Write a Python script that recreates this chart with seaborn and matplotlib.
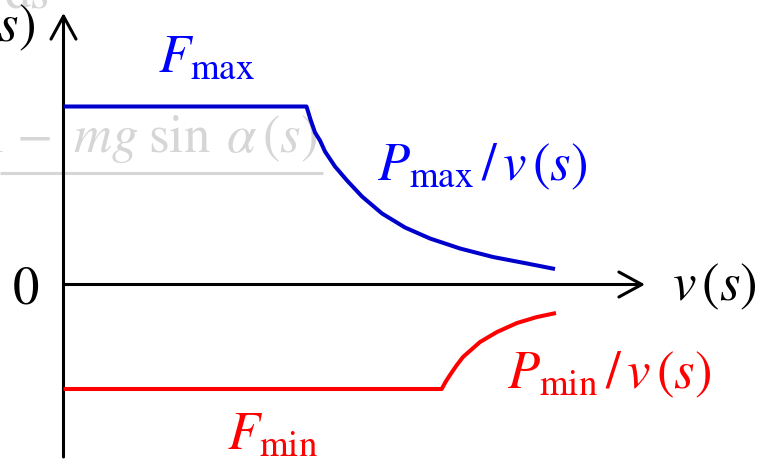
import matplotlib
matplotlib.use("Agg")
import matplotlib.pyplot as plt
import numpy as np
import pandas as pd
import seaborn as sns

sns.set_theme(style="white")
plt.rcParams["mathtext.fontset"] = "stix"
plt.rcParams["font.family"] = ["STIXGeneral", "DejaVu Serif"]

# Traction force limit: flat at F_max, then falling along P_max / v
v_max = [0.0, 24.3, 24.7, 25.15, 25.65, 26.15, 27.15, 28.35, 29.85, 31.85,
         34.15, 36.65, 39.65, 42.95, 46.35, 49.15]
f_max = [17.8, 17.8, 16.5, 15.2, 14.4, 13.3, 11.8, 10.4, 8.8, 7.1,
         5.7, 4.6, 3.6, 2.75, 2.1, 1.55]

# Braking force limit: flat at F_min, then rising along P_min / v
v_min = [0.0, 37.82, 38.2, 38.65, 39.3, 39.95, 41.65, 43.35, 45.35, 47.35, 49.25]
f_min = [-10.45, -10.45, -9.75, -9.05, -8.1, -7.25, -5.75, -4.75, -3.85, -3.25, -2.85]

BLUE_LINE = "#0000cc"
BLUE_TEXT = "#0000ff"
RED = "#ff0000"
GRAY = "#d6d6d6"
FS = 38

fig = plt.figure(figsize=(7.7, 4.66), dpi=100)
ax = fig.add_axes([0, 0, 1, 1])
ax.set_xlim(-6.35, 70.65)
ax.set_ylim(-18.15, 28.45)
ax.axis("off")

df_max = pd.DataFrame({"v": v_max, "F": f_max})
df_min = pd.DataFrame({"v": v_min, "F": f_min})
sns.lineplot(data=df_max, x="v", y="F", ax=ax, color=BLUE_LINE, lw=2.9,
             sort=False, estimator=None, solid_capstyle="butt", zorder=4)
sns.lineplot(data=df_min, x="v", y="F", ax=ax, color=RED, lw=2.9,
             sort=False, estimator=None, solid_capstyle="butt", zorder=4)

# Axes with open arrow heads
arrow = dict(arrowstyle="->,head_length=0.55,head_width=0.3", lw=2.2,
             color="black", mutation_scale=30, shrinkA=0, shrinkB=0)
ax.annotate("", xy=(58.15, 0), xytext=(0, 0), arrowprops=arrow, zorder=3)
ax.annotate("", xy=(0, 27.15), xytext=(0, -17.25), arrowprops=arrow, zorder=3)

# Faint background expression (fraction partly outside the frame)
ax.text(-6.0, 13.25, r"$\mathrm{l}$", color=GRAY, fontsize=FS,
        ha="right", va="baseline", zorder=1)
ax.text(25.35, 13.25, r"$-\;\;mg\;\sin\;\alpha\,(s)$", color=GRAY,
        fontsize=FS, ha="right", va="baseline", zorder=1)
ax.plot([-6.35, 25.95], [11.15, 11.15], color=GRAY, lw=2.2, zorder=1,
        solid_capstyle="butt")
ax.text(-3.6, 27.65, r"$\mathrm{d}s$", color=GRAY, fontsize=FS,
        ha="center", va="baseline", zorder=1)
ax.text(-2.8, 24.35, r"$F(s)$", color="black", fontsize=FS,
        ha="right", va="baseline", zorder=2)

# Labels
ax.text(9.45, 21.25, r"$F_{\mathrm{max}}$", color=BLUE_TEXT, fontsize=FS,
        ha="left", va="baseline")
ax.text(31.35, 10.45, r"$P_{\mathrm{max}}\,/\,v\,(s)$", color=BLUE_TEXT,
        fontsize=FS, ha="left", va="baseline")
ax.text(60.85, -1.55, r"$v\,(s)$", color="black", fontsize=FS,
        ha="left", va="baseline")
ax.text(-2.45, -1.85, r"$0$", color="black", fontsize=FS,
        ha="right", va="baseline")
ax.text(44.35, -10.35, r"$P_{\mathrm{min}}\,/\,v\,(s)$", color=RED,
        fontsize=FS, ha="left", va="baseline")
ax.text(16.35, -16.55, r"$F_{\mathrm{min}}$", color=RED, fontsize=FS,
        ha="left", va="baseline")

fig.savefig("out.png", dpi=100)
